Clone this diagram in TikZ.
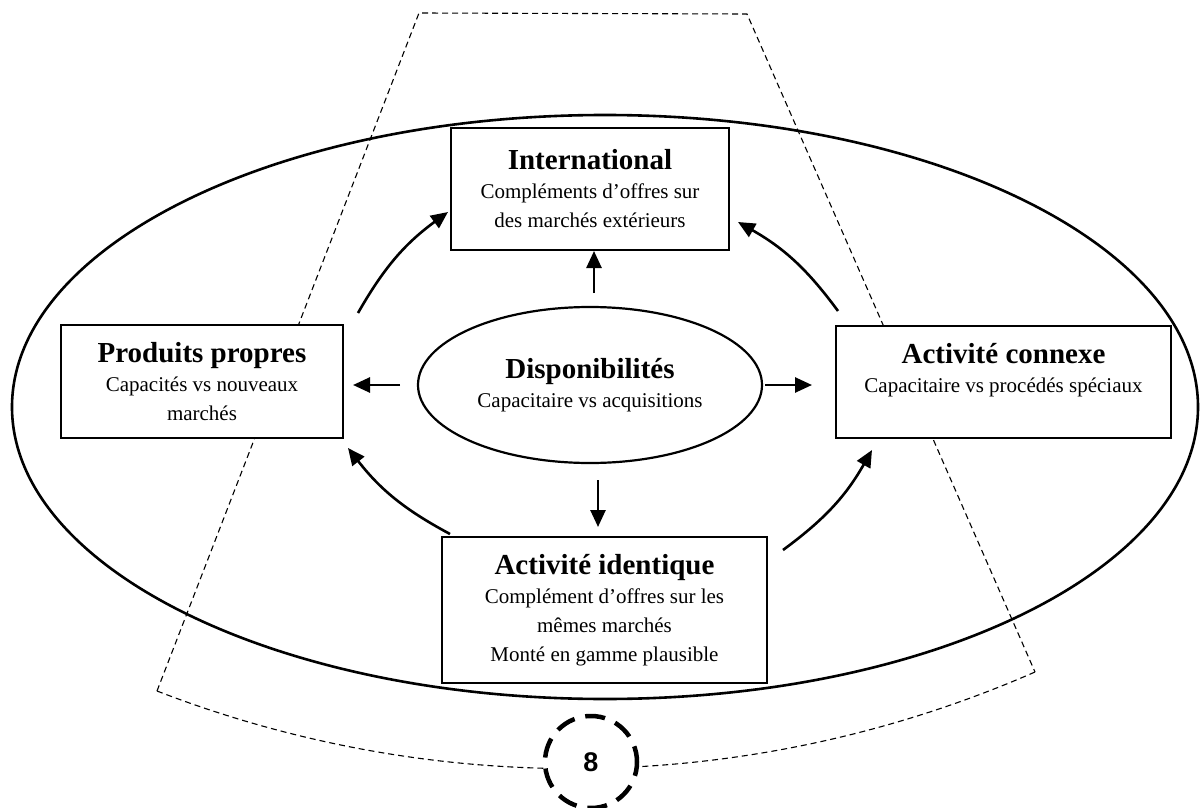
\documentclass[tikz,border=0pt]{standalone}
\usepackage{fontspec}
\setmainfont{Liberation Serif}
\newfontfamily\numfont{Liberation Sans}
\usetikzlibrary{shapes.geometric,arrows.meta}
\newcommand\ttl[1]{{\fontsize{29}{29}\selectfont\bfseries #1}}
\tikzset{
  boxnode/.style={draw, line width=1.8pt, fill=white, align=center, inner sep=0pt,
    font=\fontsize{21}{29}\selectfont},
  fanline/.style={line width=1.1pt, dash pattern=on 6pt off 4pt},
  arr/.style={line width=2.6pt, -{Triangle[length=17pt,width=15pt]}},
}
\begin{document}
\begin{tikzpicture}[x=1pt,y=1pt]
\useasboundingbox (0,0) rectangle (1203,-808);
% fan shape (dashed)
\coordinate (tl) at (419,-13);
\coordinate (tr) at (747,-14);
\coordinate (bl) at (157,-691);
\coordinate (br) at (1035,-672);
\draw[fanline] (bl) -- (tl) -- (tr) -- (br);
\draw[fanline] (bl) arc[start angle=248.86, end angle=268.6, radius=1153.5pt];
\draw[fanline] (br) arc[start angle=293.61, end angle=273.2, radius=1153.5pt];
% outer ellipse
\node (outer) [draw, ellipse, line width=2.6pt, minimum width=1186pt, minimum height=584pt, inner sep=0pt] at (605,-407) {};
% boxes
\node (intl) [boxnode, minimum width=278pt, minimum height=122pt] at (590,-189)
  {\ttl{International}\\Compléments d’offres sur\\des marchés extérieurs};
\node (prod) [boxnode, minimum width=282pt, minimum height=113pt] at (202,-381.5)
  {\ttl{Produits propres}\\Capacités vs nouveaux\\marchés};
\node (conn) [boxnode, minimum width=335pt, minimum height=112pt] at (1003.5,-382)
  {\ttl{Activité connexe}\\Capacitaire vs procédés spéciaux\\\mbox{}};
\node (ident) [boxnode, minimum width=325pt, minimum height=146pt] at (604.5,-610)
  {\ttl{Activité identique}\\Complément d’offres sur les\\mêmes marchés\\Monté en gamme plausible};
\node (dispo) [boxnode, ellipse, line width=2.2pt, minimum width=344pt, minimum height=156pt] at (590,-385)
  {\ttl{Disponibilités}\\Capacitaire vs acquisitions};
% number
\node (eight) [draw, circle, fill=white, line width=4.5pt, dash pattern=on 20pt off 11pt, dash phase=4pt,
  minimum size=92pt, inner sep=0pt, font=\numfont\bfseries\fontsize{27}{27}\selectfont] at (591,-762) {8};
% arrow ends
\coordinate (upS) at (594,-293); \coordinate (upE) at (594,-251);
\coordinate (downS) at (598,-480); \coordinate (downE) at (598,-527);
\coordinate (leftS) at (400,-385); \coordinate (leftE) at (353,-385);
\coordinate (rightS) at (765,-385); \coordinate (rightE) at (812,-385);
\coordinate (ulS) at (358,-313); \coordinate (ulE) at (448,-212);
\coordinate (urS) at (838,-311); \coordinate (urE) at (738,-222);
\coordinate (llS) at (450,-534); \coordinate (llE) at (348,-448);
\coordinate (lrS) at (783,-550); \coordinate (lrE) at (872,-450);
\draw[arr] (upS) -- (upE);
\draw[arr] (downS) -- (downE);
\draw[arr] (leftS) -- (leftE);
\draw[arr] (rightS) -- (rightE);
\draw[arr] (ulS) to[bend left=12] (ulE);
\draw[arr] (urS) to[bend right=12] (urE);
\draw[arr] (llS) to[bend left=12] (llE);
\draw[arr] (lrS) to[bend right=12] (lrE);
\end{tikzpicture}
\end{document}
